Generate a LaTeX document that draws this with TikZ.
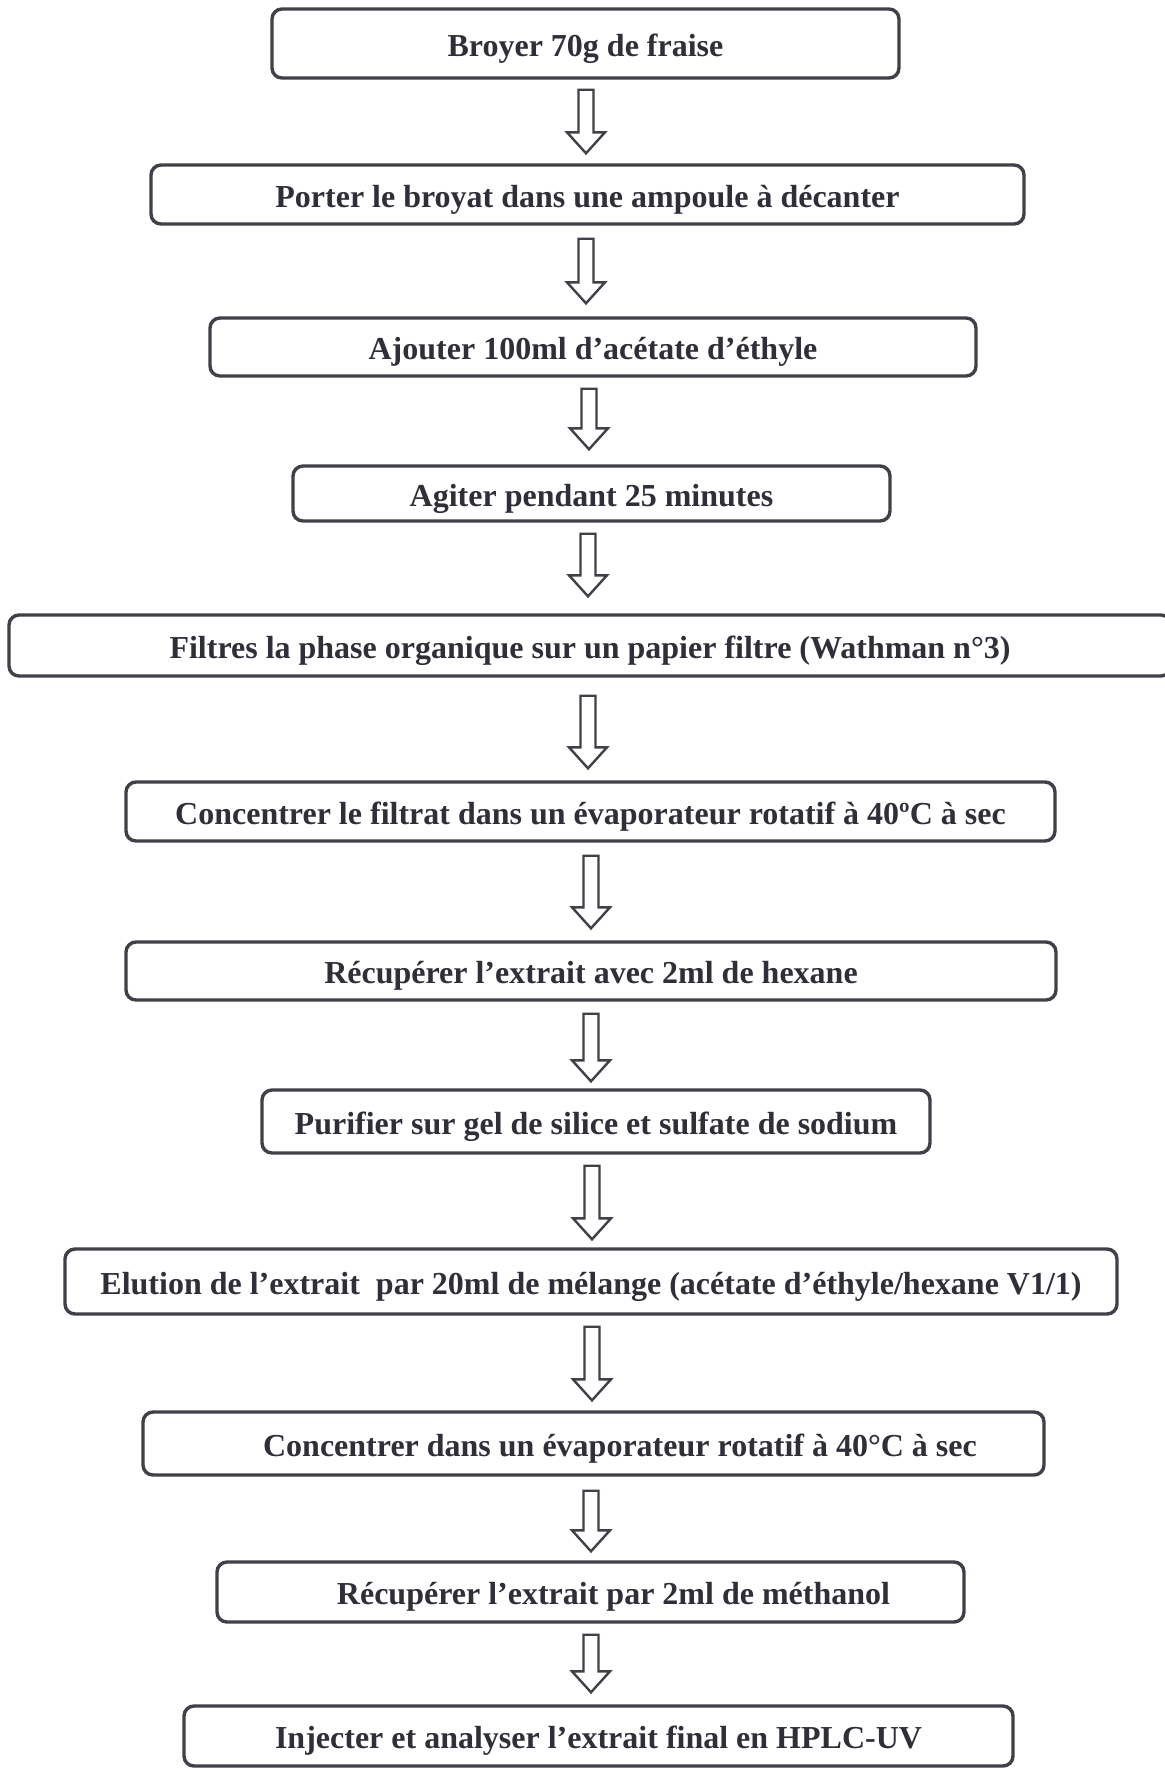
\documentclass[tikz,border=0pt]{standalone}
\usepackage{fontspec}
\setmainfont{Liberation Serif}
\usetikzlibrary{calc}
\definecolor{ink}{RGB}{50,46,57}
\definecolor{edge}{RGB}{66,63,72}
\newcommand{\blockarrow}[5]{%
  \draw[arr] let \p1=(#1.south), \p2=(#2.north) in
    ({#3*0.5pt-3.75pt},{\y1-#4*0.5pt}) --
    ({#3*0.5pt+3.75pt},{\y1-#4*0.5pt}) --
    ({#3*0.5pt+3.75pt},{\y2+#5*0.5pt+10.5pt}) --
    ({#3*0.5pt+9.5pt},{\y2+#5*0.5pt+10.5pt}) --
    ({#3*0.5pt},{\y2+#5*0.5pt}) --
    ({#3*0.5pt-9.5pt},{\y2+#5*0.5pt+10.5pt}) --
    ({#3*0.5pt-3.75pt},{\y2+#5*0.5pt+10.5pt}) -- cycle;}
\begin{document}
\begin{tikzpicture}[x=0.5pt,y=-0.5pt,
  stepbox/.style={draw=edge, line width=1.7pt, rounded corners=5pt,
    font=\fontsize{16}{19}\selectfont\bfseries, text=ink, inner sep=0pt,
    text height=12.5pt, text depth=0pt},
  arr/.style={draw=edge, line width=1.2pt, fill=white, line join=miter}]
\useasboundingbox (0,0) rectangle (1165,1769);
\clip (0,0) rectangle (1165,1769);
\fill[white] (0,0) rectangle (1165,1769);
\node[stepbox, minimum width=313.5pt, minimum height=34.5pt] (b1) at (585.5,43.5) {Broyer 70g de fraise};
\node[stepbox, minimum width=436.5pt, minimum height=29.5pt] (b2) at (587.5,194.5) {Porter le broyat dans une ampoule à décanter};
\node[stepbox, minimum width=383pt, minimum height=29pt] (b3) at (593,347) {Ajouter 100ml d’acétate d’éthyle};
\node[stepbox, minimum width=298.5pt, minimum height=27.5pt] (b4) at (591.5,493.5) {Agiter pendant 25 minutes};
\node[stepbox, minimum width=581pt, minimum height=30.5pt] (b5) at (590,645.5) {Filtres la phase organique sur un papier filtre (Wathman n°3)};
\node[stepbox, minimum width=464.5pt, minimum height=29.5pt] (b6) at (590.5,811.5) {Concentrer le filtrat dans un évaporateur rotatif à 40ºC à sec};
\node[stepbox, minimum width=465pt, minimum height=29pt] (b7) at (591,971) {Récupérer l’extrait avec 2ml de hexane};
\node[stepbox, minimum width=334pt, minimum height=31.5pt] (b8) at (596,1121.5) {Purifier sur gel de silice et sulfate de sodium};
\node[stepbox, minimum width=526pt, minimum height=32.5pt] (b9) at (591,1281.5) {Elution de l’extrait\ \ par 20ml de mélange (acétate d’éthyle/hexane V1/1)};
\node[stepbox, minimum width=450.5pt, minimum height=31.5pt] (b10) at (593.5,1443.5) {\hspace*{26.5pt}Concentrer dans un évaporateur rotatif à 40°C à sec};
\node[stepbox, minimum width=373.5pt, minimum height=30pt] (b11) at (590.5,1592) {\hspace*{23pt}Récupérer l’extrait par 2ml de méthanol};
\node[stepbox, minimum width=414.5pt, minimum height=30pt] (b12) at (598.5,1736) {Injecter et analyser l’extrait final en HPLC-UV};
\blockarrow{b1}{b2}{586}{10}{10}
\blockarrow{b2}{b3}{586}{13}{13}
\blockarrow{b3}{b4}{589}{11}{15}
\blockarrow{b4}{b5}{588}{11}{17}
\blockarrow{b5}{b6}{588}{18}{12}
\blockarrow{b6}{b7}{591}{13}{12}
\blockarrow{b7}{b8}{591}{12}{7}
\blockarrow{b8}{b9}{592}{11}{8}
\blockarrow{b9}{b10}{592}{11}{10}
\blockarrow{b10}{b11}{591}{14}{9}
\blockarrow{b11}{b12}{591}{11}{12}
\end{tikzpicture}
\end{document}
